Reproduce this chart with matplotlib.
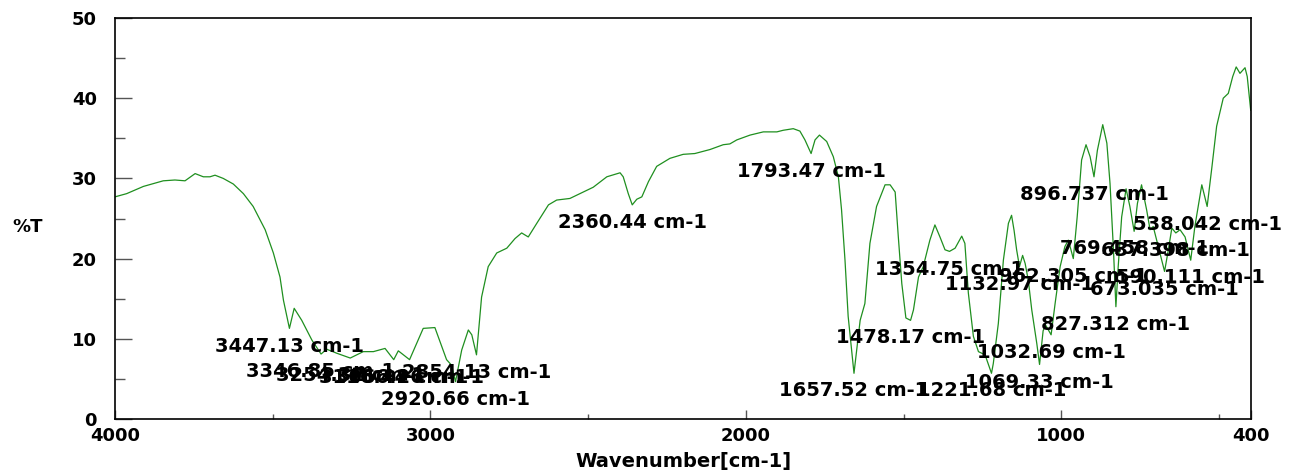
import matplotlib.pyplot as plt
import numpy as np


# FT-IR spectrum (wavenumber in cm-1, %T)
wavenumber = np.array([
    4000, 3963, 3910, 3847, 3810, 3778, 3746, 3720, 3699, 3683, 3657, 3625,
    3593, 3562, 3524, 3498, 3477, 3466, 3447.13, 3432, 3408, 3376, 3346.85,
    3329, 3297, 3254.32, 3213, 3181, 3144, 3116.44, 3102, 3066.26, 3023, 2986,
    2964, 2949, 2933, 2920.66, 2901, 2880, 2869, 2854.13, 2838, 2817, 2790,
    2758, 2732, 2711, 2690, 2663, 2626, 2600, 2558, 2526, 2484, 2441, 2399,
    2389, 2373, 2360.44, 2346, 2330, 2309, 2283, 2241, 2199, 2162, 2114, 2072,
    2051, 2029, 1987, 1945, 1902, 1882, 1850, 1829, 1813, 1793.47, 1781, 1767,
    1744, 1723, 1707, 1697, 1686, 1676, 1657.52, 1649, 1638, 1623, 1607, 1586,
    1559, 1543, 1527, 1517, 1506, 1493, 1478.17, 1469, 1453, 1438, 1417, 1401,
    1385, 1369, 1354.75, 1337, 1316, 1306, 1295, 1279, 1263, 1242, 1221.68,
    1216, 1200, 1184, 1168, 1158, 1150, 1142, 1132.97, 1123, 1115, 1105, 1094,
    1078, 1069.33, 1058, 1050, 1032.69, 1020, 1004, 989, 978, 962.305, 950,
    936, 922, 909, 896.737, 886, 869, 856, 846, 835, 827.312, 820, 809, 795,
    783, 769.458, 759, 746, 730, 719, 709, 693, 673.035, 661, 650, 637.398,
    624, 608, 590.111, 577, 555, 538.042, 523, 508, 487, 471, 457, 446, 434,
    418, 411, 400,
])
transmittance = np.array([
    27.7, 28.1, 29.0, 29.7, 29.8, 29.7, 30.6, 30.2, 30.2, 30.4, 30.0, 29.3,
    28.1, 26.5, 23.6, 20.7, 17.7, 14.8, 11.3, 13.8, 12.3, 9.85, 8.1,
    8.7, 8.2, 7.6, 8.4, 8.4, 8.8, 7.4, 8.5, 7.4, 11.3, 11.4,
    9.0, 7.4, 6.7, 4.65, 8.6, 11.1, 10.5, 8.0, 15.2, 19.0, 20.7,
    21.3, 22.5, 23.2, 22.7, 24.4, 26.7, 27.3, 27.5, 28.1, 28.9, 30.2, 30.7,
    30.2, 28.1, 26.7, 27.4, 27.7, 29.6, 31.5, 32.5, 33.0, 33.1, 33.6, 34.2,
    34.3, 34.8, 35.4, 35.8, 35.8, 36.0, 36.2, 35.9, 34.8, 33.1, 34.8, 35.4,
    34.6, 32.7, 30.2, 26.1, 19.8, 12.8, 5.7, 8.6, 12.3, 14.4, 21.9, 26.5,
    29.2, 29.2, 28.3, 22.7, 16.9, 12.6, 12.3, 13.6, 17.7, 19.0, 22.3, 24.2,
    22.7, 21.1, 20.9, 21.3, 22.8, 21.9, 15.7, 10.3, 8.4, 8.0, 5.7,
    6.9, 11.9, 19.8, 24.4, 25.4, 23.5, 21.1, 19.0, 20.4, 19.4, 17.3, 13.6,
    9.4, 6.8, 11.0, 11.7, 10.5, 14.4, 19.0, 21.5, 22.3, 20.0, 25.2,
    32.3, 34.2, 32.7, 30.2, 33.5, 36.7, 34.4, 29.4, 21.1, 14.0, 19.0, 25.2, 28.7,
    26.5, 23.4, 26.9, 29.2, 26.1, 23.6, 24.0, 21.5, 18.4, 21.1, 23.8, 23.2,
    23.6, 22.7, 19.8, 24.0, 29.2, 26.5, 31.4, 36.5, 40.0, 40.6, 42.7, 43.9, 43.1,
    43.8, 42.7, 38.5,
])

# picked peaks
peak_wn = np.array([
    3447.13, 3346.85, 3254.32, 3116.44, 3066.26, 2920.66, 2854.13, 2360.44,
    1793.47, 1657.52, 1478.17, 1354.75, 1221.68, 1132.97, 1069.33, 1032.69,
    962.305, 896.737, 827.312, 769.458, 673.035, 637.398, 590.111, 538.042,
])
peak_text = [
    "3447.13", "3346.85", "3254.32", "3116.44", "3066.26", "2920.66", "2854.13",
    "2360.44", "1793.47", "1657.52", "1478.17", "1354.75", "1221.68", "1132.97",
    "1069.33", "1032.69", "962.305", "896.737", "827.312", "769.458", "673.035",
    "637.398", "590.111", "538.042",
]

x_major = [4000, 3000, 2000, 1000, 400]
x_minor = [3500, 2500, 1500, 500]
y_major = [0, 10, 20, 30, 40, 50]
y_minor = [5, 15, 25, 35, 45]

W, H = 1292, 471
fig = plt.figure(figsize=(W / 100, H / 100), dpi=100)
ax = fig.add_axes([115 / W, 1 - 419 / H, (1250.7 - 115) / W, (419 - 18) / H])

ax.plot(wavenumber, transmittance, color="#1f8f1f", linewidth=0.9)

# peak labels, centred under each minimum
order = np.argsort(wavenumber)
for wn, txt in zip(peak_wn, peak_text):
    t = np.interp(wn, wavenumber[order], transmittance[order])
    ax.text(wn, t - 2.2, txt + " cm-1", ha="center", va="center",
            fontsize=14, fontweight="bold", family="DejaVu Sans", color="black")

ax.set_xlim(4000, 400)
ax.set_ylim(0, 50)
ax.set_xticks(x_major)
ax.set_xticks(x_minor, minor=True)
ax.set_yticks(y_major)
ax.set_yticks(y_minor, minor=True)

ax.tick_params(axis="y", which="major", direction="in", length=12, width=1,
               color="#555555", pad=13)
ax.tick_params(axis="y", which="minor", direction="in", length=7, width=1,
               color="#555555")
ax.tick_params(axis="x", which="major", direction="in", length=6.5, width=1,
               color="#555555", pad=6)
ax.tick_params(axis="x", which="minor", direction="in", length=3.6, width=1,
               color="#555555")
for lab in ax.get_xticklabels() + ax.get_yticklabels():
    lab.set_fontsize(13)
    lab.set_fontweight("bold")
    lab.set_family("DejaVu Sans")

for sp in ax.spines.values():
    sp.set_linewidth(1.2)
    sp.set_color("black")

fig.text(12 / W, 1 - 227 / H, "%T", ha="left", va="center",
         fontsize=13, fontweight="bold", family="DejaVu Sans")
fig.text(683 / W, 1 - 461 / H, "Wavenumber[cm-1]", ha="center", va="center",
         fontsize=14, fontweight="bold", family="DejaVu Sans")

fig.savefig("out.png", dpi=100)
